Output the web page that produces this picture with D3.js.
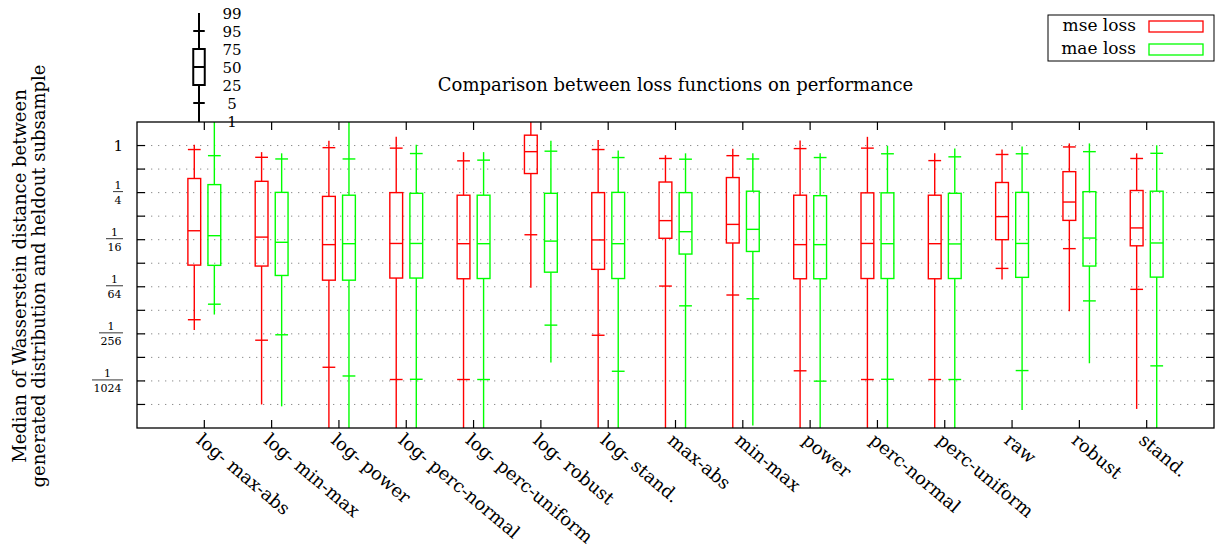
<!DOCTYPE html>
<html>
<head>
<meta charset="utf-8">
<script src="https://cdn.jsdelivr.net/npm/d3@7"></script>
<style>
  body { margin: 0; background: #fff; }
  text { font-family: "DejaVu Serif", serif; fill: #000; }
</style>
</head>
<body>
<div id="chart"></div>
<script>
const categories = ['log- max-abs', 'log- min-max', 'log- power', 'log- perc-normal', 'log- perc-uniform',
    'log- robust', 'log- stand.', 'max-abs', 'min-max', 'power', 'perc-normal', 'perc-uniform', 'raw', 'robust', 'stand.'];

// log2 of the percentiles, per category: [p1, p5, p25, p50, p75, p95, p99]
const mseLog2 = [
    [-7.84, -7.40, -5.08, -3.62, -1.40, -0.17, 0.03],
    [-11.0, -8.27, -5.12, -3.89, -1.52, -0.50, -0.28],
    [-13, -9.42, -5.72, -4.21, -2.16, -0.09, 0.20],
    [-13, -9.94, -5.63, -4.16, -2.00, -0.11, 0.37],
    [-13, -9.94, -5.66, -4.17, -2.11, -0.65, -0.28],
    [-6.04, -3.79, -1.19, -0.26, 0.44, 1.2, 1.5],
    [-13, -8.06, -5.26, -4.01, -2.00, -0.17, 0.23],
    [-13, -5.97, -3.94, -3.19, -1.55, -0.55, -0.41],
    [-13, -6.35, -4.14, -3.35, -1.36, -0.43, -0.14],
    [-13, -9.57, -5.66, -4.21, -2.11, -0.13, 0.21],
    [-13, -9.94, -5.65, -4.16, -2.01, -0.11, 0.37],
    [-13, -9.94, -5.66, -4.17, -2.11, -0.64, -0.33],
    [-5.69, -5.22, -4.00, -3.02, -1.57, -0.38, -0.17],
    [-7.04, -4.38, -3.18, -2.40, -1.11, -0.06, 0.09],
    [-11.19, -6.11, -4.26, -3.50, -1.91, -0.55, -0.33]
];
const maeLog2 = [
    [-7.18, -6.74, -5.09, -3.83, -1.66, -0.43, 1.4],
    [-11.08, -8.04, -5.52, -4.11, -1.99, -0.57, -0.33],
    [-13, -9.79, -5.72, -4.17, -2.11, -0.57, 1.4],
    [-13, -9.93, -5.63, -4.16, -2.03, -0.34, 0.03],
    [-13, -9.94, -5.65, -4.17, -2.11, -0.62, -0.28],
    [-9.22, -7.63, -5.38, -4.06, -2.03, -0.24, 0.20],
    [-13, -9.59, -5.65, -4.17, -1.99, -0.51, -0.21],
    [-13, -6.81, -4.61, -3.66, -2.00, -0.58, -0.33],
    [-11.89, -6.51, -4.50, -3.56, -1.94, -0.57, -0.33],
    [-13, -10.01, -5.66, -4.21, -2.13, -0.51, -0.33],
    [-13, -9.93, -5.65, -4.17, -2.01, -0.35, -0.01],
    [-13, -9.94, -5.65, -4.18, -2.03, -0.48, -0.13],
    [-11.23, -9.56, -5.60, -4.16, -1.99, -0.35, -0.04],
    [-9.25, -6.60, -5.12, -3.93, -1.96, -0.26, 0.09],
    [-13, -9.36, -5.59, -4.14, -1.94, -0.33, 0.01]
];
const gridExponents = [0, -1, -2, -3, -4, -5, -6, -7, -8, -9, -10, -11];
const labelExponents = [0, -2, -4, -6, -8, -10];
const keyLabels = ['99', '95', '75', '50', '25', '5', '1'];

const series = [
    { name: 'mse loss', color: '#ff0000', rows: mseLog2, side: -1 },
    { name: 'mae loss', color: '#00ff00', rows: maeLog2, side: 1 }
];

const width = 1218;
const height = 549;
const plot = { left: 137, right: 1214, top: 122, bottom: 428 };

const svg = d3.select('#chart').append('svg')
    .attr('width', width)
    .attr('height', height);

const x = d3.scalePoint().domain(categories).range([plot.left, plot.right]).padding(1);
const y = d3.scaleLog().base(2).domain([Math.pow(2, -12), 2]).range([plot.bottom, plot.top]);
const step = x.step();
const boxW = step * 0.19;
const offset = step * 0.149;

svg.append('defs').append('clipPath').attr('id', 'plot-clip')
    .append('rect')
    .attr('x', plot.left).attr('y', plot.top)
    .attr('width', plot.right - plot.left).attr('height', plot.bottom - plot.top);

// dotted grid
svg.append('g').selectAll('line')
    .data(gridExponents)
    .enter()
    .append('line')
    .attr('x1', plot.left)
    .attr('x2', plot.right)
    .attr('y1', d => y(Math.pow(2, d)))
    .attr('y2', d => y(Math.pow(2, d)))
    .attr('stroke', '#8c8c8c')
    .attr('stroke-width', 1)
    .attr('stroke-dasharray', '1.3,5.7');

// y ticks on both sides, x ticks top and bottom
const tickG = svg.append('g').attr('stroke', '#000').attr('stroke-width', 1.2);
gridExponents.forEach(e => {
    const yy = y(Math.pow(2, e));
    tickG.append('line').attr('x1', plot.left).attr('x2', plot.left + 8).attr('y1', yy).attr('y2', yy);
    tickG.append('line').attr('x1', plot.right).attr('x2', plot.right - 8).attr('y1', yy).attr('y2', yy);
});
categories.forEach(c => {
    tickG.append('line').attr('x1', x(c)).attr('x2', x(c)).attr('y1', plot.top).attr('y2', plot.top + 8);
    tickG.append('line').attr('x1', x(c)).attr('x2', x(c)).attr('y1', plot.bottom).attr('y2', plot.bottom - 8);
});

// y tick labels, fractions for values below one
const labelRight = 123;
labelExponents.forEach(e => {
    const yy = y(Math.pow(2, e));
    if (e === 0) {
        svg.append('text')
            .attr('x', labelRight)
            .attr('y', yy + 5.5)
            .attr('text-anchor', 'end')
            .style('font-size', '15px')
            .text('1');
        return;
    }
    const den = svg.append('text')
        .attr('text-anchor', 'middle')
        .style('font-size', '11px')
        .text(String(Math.pow(2, -e)));
    const w = den.node().getComputedTextLength() + 3;
    const cx = labelRight - w / 2;
    den.attr('x', cx).attr('y', yy + 11.5);
    svg.append('text')
        .attr('x', cx)
        .attr('y', yy - 4)
        .attr('text-anchor', 'middle')
        .style('font-size', '11px')
        .text('1');
    svg.append('line')
        .attr('x1', cx - w / 2).attr('x2', cx + w / 2)
        .attr('y1', yy - 1).attr('y2', yy - 1)
        .attr('stroke', '#000').attr('stroke-width', 0.8);
});

// boxes and whiskers
const boxes = svg.append('g').attr('clip-path', 'url(#plot-clip)');
series.forEach(s => {
    const g = boxes.append('g')
        .attr('stroke', s.color)
        .attr('stroke-width', 1.4)
        .attr('fill', 'none');
    s.rows.forEach((row, i) => {
        const v = row.map(e => y(Math.pow(2, e)));
        const cx = x(categories[i]) + s.side * offset;
        g.append('line').attr('x1', cx).attr('x2', cx).attr('y1', v[0]).attr('y2', v[2]);
        g.append('line').attr('x1', cx).attr('x2', cx).attr('y1', v[4]).attr('y2', v[6]);
        [v[1], v[5]].forEach(cy => {
            g.append('line').attr('x1', cx - boxW / 2).attr('x2', cx + boxW / 2).attr('y1', cy).attr('y2', cy);
        });
        g.append('rect')
            .attr('x', cx - boxW / 2)
            .attr('y', v[4])
            .attr('width', boxW)
            .attr('height', v[2] - v[4]);
        g.append('line').attr('x1', cx - boxW / 2).attr('x2', cx + boxW / 2).attr('y1', v[3]).attr('y2', v[3]);
    });
});

// frame
svg.append('rect')
    .attr('x', plot.left).attr('y', plot.top)
    .attr('width', plot.right - plot.left).attr('height', plot.bottom - plot.top)
    .attr('fill', 'none').attr('stroke', '#000').attr('stroke-width', 1.3);

// x labels
svg.append('g').selectAll('text')
    .data(categories)
    .enter()
    .append('text')
    .attr('transform', d => `translate(${x(d) - 9}, 442) rotate(40)`)
    .style('font-size', '18px')
    .text(d => d);

// y label
const yLabel = svg.append('text')
    .attr('transform', 'translate(26, 276) rotate(-90)')
    .attr('text-anchor', 'middle')
    .style('font-size', '18px');
yLabel.append('tspan').attr('x', 0).attr('y', 0).text('Median of Wasserstein distance between');
yLabel.append('tspan').attr('x', 0).attr('y', 19).text('generated distribution and heldout subsample');

// title
svg.append('text')
    .attr('x', (plot.left + plot.right) / 2)
    .attr('y', 91)
    .attr('text-anchor', 'middle')
    .style('font-size', '18px')
    .text('Comparison between loss functions on performance');

// percentile key
const ky = d3.scalePoint().domain(keyLabels).range([13, 121]);
const keyX = 199;
const keyW = 11.5;
const key = svg.append('g').attr('stroke', '#000').attr('stroke-width', 2).attr('fill', 'none');
key.append('line').attr('x1', keyX).attr('x2', keyX).attr('y1', ky('99')).attr('y2', plot.top);
['95', '5'].forEach(k => {
    key.append('line').attr('x1', keyX - keyW / 2).attr('x2', keyX + keyW / 2).attr('y1', ky(k)).attr('y2', ky(k));
});
key.append('rect')
    .attr('x', keyX - keyW / 2).attr('y', ky('75'))
    .attr('width', keyW).attr('height', ky('25') - ky('75'))
    .attr('fill', '#fff');
key.append('line').attr('x1', keyX - keyW / 2).attr('x2', keyX + keyW / 2).attr('y1', ky('50')).attr('y2', ky('50'));
svg.append('g').selectAll('text')
    .data(keyLabels)
    .enter()
    .append('text')
    .attr('x', 232)
    .attr('y', d => ky(d) + 5.5)
    .attr('text-anchor', 'middle')
    .style('font-size', '15px')
    .text(d => d);

// series legend
const legend = svg.append('g');
legend.append('rect')
    .attr('x', 1048).attr('y', 15).attr('width', 166).attr('height', 46)
    .attr('fill', '#fff').attr('stroke', '#000').attr('stroke-width', 1);
series.forEach((s, i) => {
    const ly = 26.5 + i * 23;
    legend.append('text')
        .attr('x', 1136)
        .attr('y', ly + 4.5)
        .attr('text-anchor', 'end')
        .style('font-size', '17px')
        .text(s.name);
    legend.append('rect')
        .attr('x', 1149).attr('y', ly - 5.5).attr('width', 54).attr('height', 11)
        .attr('fill', 'none').attr('stroke', s.color).attr('stroke-width', 1.3);
});
</script>
</body>
</html>
